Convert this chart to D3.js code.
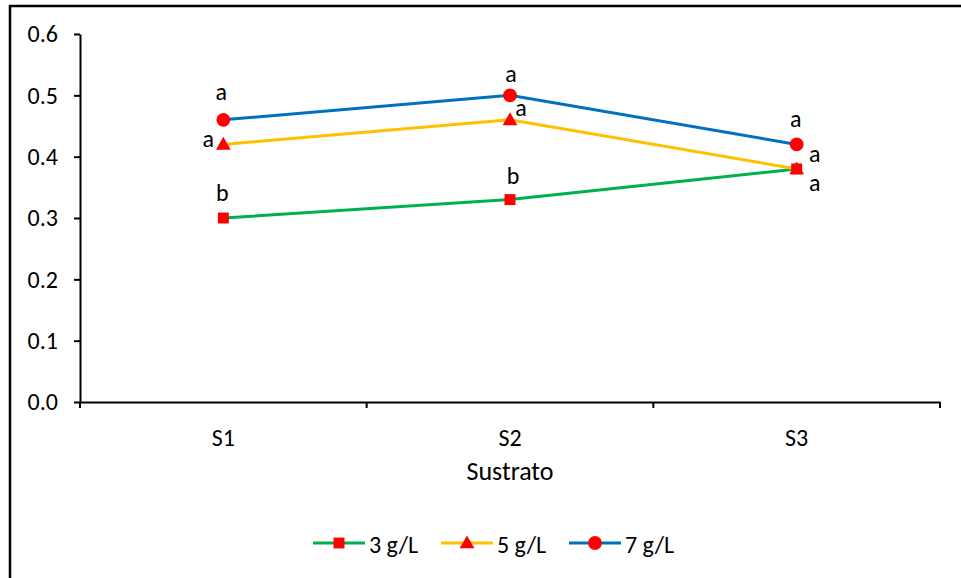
<!DOCTYPE html>
<html><head><meta charset="utf-8">
<script src="https://cdn.jsdelivr.net/npm/d3@7"></script>
<style>body{margin:0;background:#fff}svg{display:block}text{font-family:Carlito,Lato,"Open Sans",sans-serif;fill:#000}</style>
</head><body><svg id="c" width="961" height="578"></svg>
<script>
const categories = ["S1","S2","S3"];
const seriesNames = ["3 g/L","5 g/L","7 g/L"];
const values3 = [0.30,0.33,0.38];
const values5 = [0.42,0.46,0.38];
const values7 = [0.46,0.50,0.42];
const letters3 = ["b","b","a"];
const letters5 = ["a","a","a"];
const letters7 = ["a","a","a"];
const yTicks = [0,0.1,0.2,0.3,0.4,0.5,0.6];

const colors = ["#00B050","#FFC000","#0070C0"];
const markers = [d3.symbolSquare, d3.symbolTriangle, d3.symbolCircle];
const markerSizes = [120,95,150];
const series = [
  {name:seriesNames[0], values:values3, letters:letters3},
  {name:seriesNames[1], values:values5, letters:letters5},
  {name:seriesNames[2], values:values7, letters:letters7}
];
const labelOffsets = [
  [[-1,-26],[3,-24],[18,14]],
  [[-15,-6],[11,-12],[18,-15]],
  [[-2,-28],[1,-22],[-1,-26]]
];

const svg = d3.select("#c");
const W=961,H=578;
svg.append("path").attr("d",`M10,${H} L10,6 L${W},6`).attr("fill","none").attr("stroke","#000").attr("stroke-width",2.5);

const x0=80,x1=940,yTop=34,yBot=402;
const x = d3.scaleBand().domain(categories).range([x0,x1]);
const y = d3.scaleLinear().domain([0,0.6]).range([yBot,yTop]);

const yAxis = d3.axisLeft(y).tickValues(yTicks).tickFormat(d3.format(".1f")).tickSize(6).tickSizeOuter(0);
const gy = svg.append("g").attr("transform",`translate(${x0},0)`).call(yAxis);
gy.attr("font-size",null).attr("font-family",null);
gy.select(".domain").attr("stroke","#000").attr("stroke-width",2);
gy.selectAll(".tick line").attr("stroke","#000").attr("stroke-width",2);
gy.selectAll(".tick text").attr("x",-22).style("font-size","24px").attr("fill","#000");

const xAxis = d3.axisBottom(x).tickSize(0).tickSizeOuter(0);
const gx = svg.append("g").attr("transform",`translate(0,${yBot})`).call(xAxis);
gx.attr("font-size",null).attr("font-family",null);
gx.select(".domain").attr("stroke","#000").attr("stroke-width",2);
gx.selectAll(".tick text").attr("dy","0").attr("y",44).style("font-size","24px").attr("fill","#000");
const bounds = categories.map(c=>x(c)).concat([x1]);
svg.append("g").selectAll("line").data(bounds).join("line")
  .attr("x1",d=>d).attr("x2",d=>d).attr("y1",yBot).attr("y2",yBot+6)
  .attr("stroke","#000").attr("stroke-width",2);

svg.append("text").attr("x",510).attr("y",480).attr("text-anchor","middle").style("font-size","26px").text("Sustrato");

const cx = c => x(c)+x.bandwidth()/2;
const line = d3.line().x((d,i)=>cx(categories[i])).y(d=>y(d));

series.forEach((s,si)=>{
  svg.append("path").datum(s.values).attr("d",line).attr("fill","none")
    .attr("stroke",colors[si]).attr("stroke-width",3);
});
series.forEach((s,si)=>{
  svg.append("g").selectAll("path").data(s.values).join("path")
    .attr("transform",(d,i)=>`translate(${cx(categories[i])},${y(d)+(si===1?1:0)})`)
    .attr("d",d3.symbol().type(markers[si]).size(markerSizes[si]))
    .attr("fill","#FF0000");
});
series.forEach((s,si)=>{
  svg.append("g").selectAll("text").data(s.values).join("text")
    .attr("x",(d,i)=>cx(categories[i])+labelOffsets[si][i][0])
    .attr("y",(d,i)=>y(d)+labelOffsets[si][i][1])
    .attr("text-anchor","middle").attr("dominant-baseline","central")
    .style("font-size","24px").text((d,i)=>s.letters[i]);
});

const legX = [313,441,569];
const lg = svg.append("g");
series.forEach((s,si)=>{
  const g = lg.append("g").attr("transform",`translate(${legX[si]},543)`);
  g.append("line").attr("x1",0).attr("x2",52).attr("y1",0).attr("y2",0).attr("stroke",colors[si]).attr("stroke-width",3);
  g.append("path").attr("transform",`translate(26,${si===1?1:0})`).attr("d",d3.symbol().type(markers[si]).size(markerSizes[si])).attr("fill","#FF0000");
  g.append("text").attr("x",56).attr("y",1).attr("dominant-baseline","central").style("font-size","24px").text(s.name);
});
</script></body></html>
